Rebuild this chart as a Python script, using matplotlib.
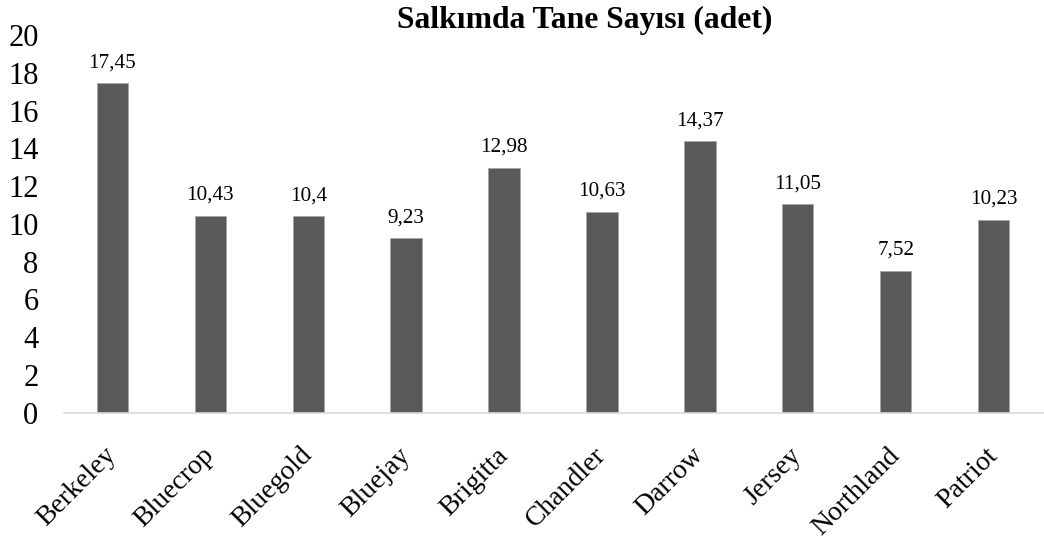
import matplotlib
matplotlib.use("Agg")
import matplotlib.pyplot as plt
from matplotlib.transforms import ScaledTranslation

# data
cultivars = ["Berkeley", "Bluecrop", "Bluegold", "Bluejay", "Brigitta",
             "Chandler", "Darrow", "Jersey", "Northland", "Patriot"]
berry_counts = [17.45, 10.43, 10.4, 9.23, 12.98, 10.63, 14.37, 11.05, 7.52, 10.23]
value_labels = ["17,45", "10,43", "10,4", "9,23", "12,98",
                "10,63", "14,37", "11,05", "7,52", "10,23"]
yticks = [0, 2, 4, 6, 8, 10, 12, 14, 16, 18, 20]

plt.rcParams["font.family"] = ["Liberation Serif", "DejaVu Serif"]

W, H = 1044, 540
fig = plt.figure(figsize=(W / 100, H / 100), dpi=100)
ax = fig.add_axes([63.5 / W, (H - 412.7) / H, 979 / W, (412.7 - 35) / H])

x = range(len(cultivars))
bars = ax.bar(x, berry_counts, width=0.32, color="#595959",
              edgecolor="#a6a6a6", linewidth=0.6, zorder=3)
for b, lab in zip(bars, value_labels):
    ax.annotate(lab, (b.get_x() + b.get_width() / 2, b.get_height()),
                xytext=(0, 11.5), textcoords="offset points",
                ha="center", va="baseline", fontsize=15.2)

ax.set_xlim(-0.5, len(cultivars) - 0.5)
ax.set_ylim(0, 20)
ax.set_yticks(yticks)
ax.set_yticklabels([str(t) for t in yticks], fontsize=22)
ax.set_xticks(list(x))
ax.set_xticklabels(cultivars, rotation=45, ha="right", va="center",
                   rotation_mode="anchor", fontsize=20)
# nudge the slanted labels a little to the left
shift = ScaledTranslation(-5 / 100, 0, fig.dpi_scale_trans)
for t in ax.get_xticklabels():
    t.set_transform(t.get_transform() + shift)
ax.tick_params(axis="y", length=0, pad=18)
ax.tick_params(axis="x", length=0, pad=28)
for s in ["top", "right", "left"]:
    ax.spines[s].set_visible(False)
ax.spines["bottom"].set_color("#d9d9d9")
ax.spines["bottom"].set_linewidth(1.2)
ax.spines["bottom"].set_zorder(4)

fig.text(585 / W, 1 - 20 / H, "Salkımda Tane Sayısı (adet)", ha="center",
         va="center", fontsize=22.8, fontweight="bold")

fig.savefig("out.png", dpi=100)
plt.close(fig)
